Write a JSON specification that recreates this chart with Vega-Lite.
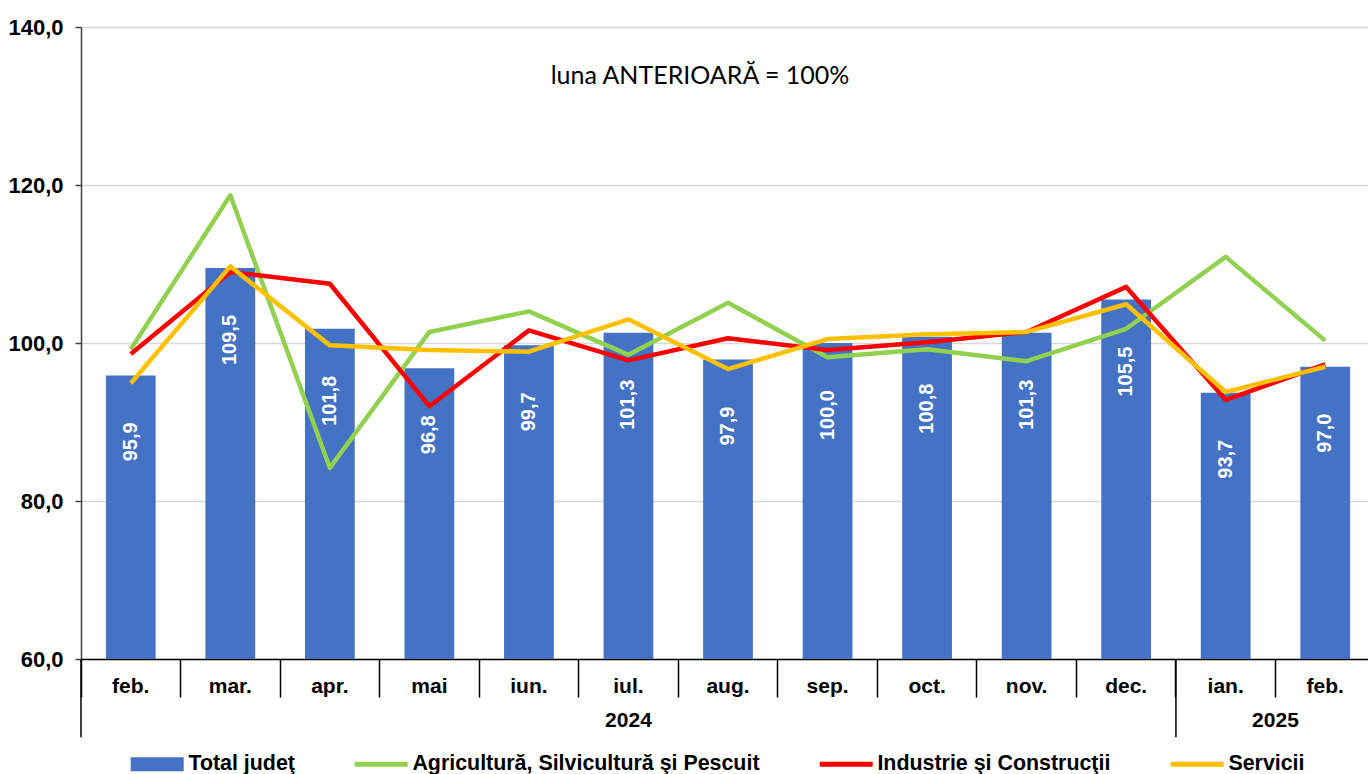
{
  "$schema": "https://vega.github.io/schema/vega-lite/v6.json",
  "width": 1294,
  "height": 632,
  "padding": {"left": 7, "top": 16, "right": 0, "bottom": 0},
  "autosize": {"type": "pad"},
  "config": {
    "locale": {"number": {"decimal": ",", "thousands": ".", "grouping": [3], "currency": ["", " lei"]}},
    "view": {"stroke": null},
    "font": "Liberation Sans"
  },
  "title": {"text": "luna ANTERIOARĂ = 100%", "font": "Lato", "fontSize": 25, "fontWeight": "normal", "color": "#000000", "offset": -73, "dx": -28, "anchor": "middle"},
  "datasets": {
    "main": [
      {"cat": "feb. 2024", "Total judeţ": 95.9, "Agricultură, Silvicultură şi Pescuit": 99.2, "Industrie şi Construcţii": 98.6, "Servicii": 94.9},
      {"cat": "mar. 2024", "Total judeţ": 109.5, "Agricultură, Silvicultură şi Pescuit": 118.7, "Industrie şi Construcţii": 109.0, "Servicii": 109.7},
      {"cat": "apr. 2024", "Total judeţ": 101.8, "Agricultură, Silvicultură şi Pescuit": 84.2, "Industrie şi Construcţii": 107.5, "Servicii": 99.7},
      {"cat": "mai 2024", "Total judeţ": 96.8, "Agricultură, Silvicultură şi Pescuit": 101.4, "Industrie şi Construcţii": 92.0, "Servicii": 99.1},
      {"cat": "iun. 2024", "Total judeţ": 99.7, "Agricultură, Silvicultură şi Pescuit": 104.0, "Industrie şi Construcţii": 101.6, "Servicii": 98.9},
      {"cat": "iul. 2024", "Total judeţ": 101.3, "Agricultură, Silvicultură şi Pescuit": 98.5, "Industrie şi Construcţii": 97.8, "Servicii": 103.0},
      {"cat": "aug. 2024", "Total judeţ": 97.9, "Agricultură, Silvicultură şi Pescuit": 105.1, "Industrie şi Construcţii": 100.6, "Servicii": 96.7},
      {"cat": "sep. 2024", "Total judeţ": 100.0, "Agricultură, Silvicultură şi Pescuit": 98.2, "Industrie şi Construcţii": 99.1, "Servicii": 100.5},
      {"cat": "oct. 2024", "Total judeţ": 100.8, "Agricultură, Silvicultură şi Pescuit": 99.2, "Industrie şi Construcţii": 100.1, "Servicii": 101.1},
      {"cat": "nov. 2024", "Total judeţ": 101.3, "Agricultură, Silvicultură şi Pescuit": 97.7, "Industrie şi Construcţii": 101.4, "Servicii": 101.4},
      {"cat": "dec. 2024", "Total judeţ": 105.5, "Agricultură, Silvicultură şi Pescuit": 101.8, "Industrie şi Construcţii": 107.1, "Servicii": 104.9},
      {"cat": "ian. 2025", "Total judeţ": 93.7, "Agricultură, Silvicultură şi Pescuit": 110.9, "Industrie şi Construcţii": 92.8, "Servicii": 93.8},
      {"cat": "feb. 2025", "Total judeţ": 97.0, "Agricultură, Silvicultură şi Pescuit": 100.3, "Industrie şi Construcţii": 97.3, "Servicii": 97.0}
    ]
  },
  "encoding": {
    "x": {
      "field": "cat", "type": "nominal",
      "scale": {"domain": ["feb. 2024", "mar. 2024", "apr. 2024", "mai 2024", "iun. 2024", "iul. 2024", "aug. 2024", "sep. 2024", "oct. 2024", "nov. 2024", "dec. 2024", "ian. 2025", "feb. 2025"], "paddingInner": 0, "paddingOuter": 0},
      "axis": {"title": null, "labelExpr": "split(datum.label, ' ')[0]", "labelAngle": 0, "labelFontSize": 21, "labelFontWeight": "bold", "labelColor": "#000000", "labelBaseline": "top", "labelPadding": -22, "tickSize": 38, "tickColor": "#000000", "tickWidth": 1.5, "bandPosition": 0, "domainColor": "#000000", "domainWidth": 1.5, "grid": false}
    }
  },
  "layer": [
    {
      "data": {"name": "main"},
      "mark": {"type": "bar", "width": {"band": 0.5}},
      "encoding": {
        "y": {"field": "Total judeţ", "type": "quantitative",
          "scale": {"domain": [60, 140], "nice": false, "zero": false},
          "axis": {"title": null, "values": [60, 80, 100, 120, 140], "format": ".1f", "labelFontSize": 22, "labelFontWeight": "bold", "labelColor": "#000000", "labelPadding": 12, "tickSize": 6, "tickColor": "#404040", "tickWidth": 1.5, "domainColor": "#404040", "domainWidth": 1.5, "gridColor": "#D9D9D9", "gridWidth": 1.5}},
        "y2": {"datum": 60},
        "color": {"datum": "Total judeţ", "type": "nominal"}
      }
    },
    {
      "data": {"name": "main"},
      "mark": {"type": "text", "angle": 270, "align": "right", "baseline": "middle", "dx": -47, "color": "#FFFFFF", "fontSize": 20, "fontWeight": "bold"},
      "encoding": {
        "y": {"field": "Total judeţ", "type": "quantitative"},
        "text": {"field": "Total judeţ", "type": "quantitative", "format": ".1f"}
      }
    },
    {
      "data": {"name": "main"},
      "transform": [{"fold": ["Agricultură, Silvicultură şi Pescuit", "Industrie şi Construcţii", "Servicii"], "as": ["series", "value"]}],
      "mark": {"type": "line", "strokeWidth": 4.5, "strokeJoin": "round"},
      "encoding": {
        "y": {"field": "value", "type": "quantitative"},
        "color": {
          "field": "series", "type": "nominal",
          "scale": {"domain": ["Total judeţ", "Agricultură, Silvicultură şi Pescuit", "Industrie şi Construcţii", "Servicii"], "range": ["#4472C4", "#92D050", "#FF0000", "#FFC000"]},
          "legend": {
            "title": null, "orient": "none", "legendX": 82, "legendY": 726, "direction": "horizontal",
            "symbolSize": 400, "labelFontSize": 21.4, "labelFontWeight": "bold", "labelColor": "#000000", "labelOffset": 4, "columnPadding": 59, "labelLimit": 0,
            "encode": {"symbols": {"update": {
              "shape": {"signal": "datum.value === 'Total judeţ' ? 'M-4.3,-0.7H1V0.7H-4.3Z' : 'M-4.3,-0.25H1V0.25H-4.3Z'"},
              "fill": {"signal": "scale('color', datum.value)"},
              "stroke": {"value": "transparent"},
              "strokeWidth": {"value": 0},
              "opacity": {"value": 1}
            }}}
          }
        }
      }
    },
    {
      "data": {"values": [{"cat": "feb. 2024"}, {"cat": "ian. 2025"}]},
      "mark": {"type": "rule", "color": "#000000", "strokeWidth": 1.5},
      "encoding": {
        "x": {"field": "cat", "type": "nominal", "bandPosition": 0},
        "y": {"datum": 60},
        "y2": {"datum": 50.1}
      }
    },
    {
      "data": {"values": [{"cat": "iul. 2024", "year": "2024"}]},
      "mark": {"type": "text", "fontSize": 21, "fontWeight": "bold", "color": "#000000", "baseline": "middle"},
      "encoding": {
        "x": {"field": "cat", "type": "nominal", "bandPosition": 0.5},
        "y": {"datum": 52.2},
        "text": {"field": "year"}
      }
    },
    {
      "data": {"values": [{"cat": "ian. 2025", "year": "2025"}]},
      "mark": {"type": "text", "fontSize": 21, "fontWeight": "bold", "color": "#000000", "baseline": "middle"},
      "encoding": {
        "x": {"field": "cat", "type": "nominal", "bandPosition": 1},
        "y": {"datum": 52.2},
        "text": {"field": "year"}
      }
    }
  ]
}
